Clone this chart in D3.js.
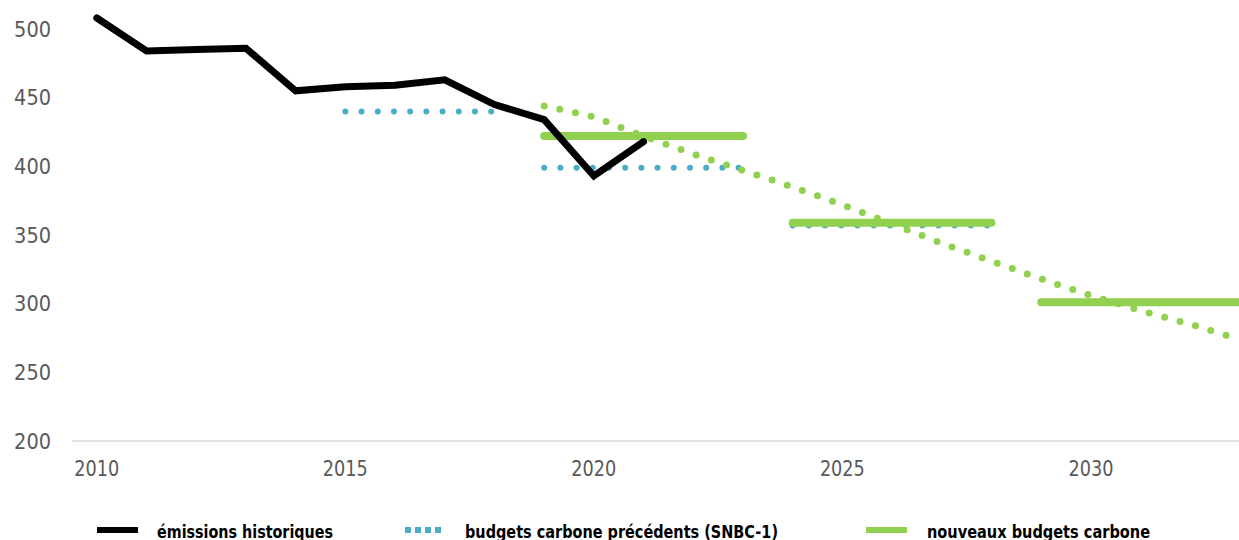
<!DOCTYPE html>
<html lang="fr">
<head>
<meta charset="utf-8">
<script src="https://d3js.org/d3.v7.min.js"></script>
<style>
  body { margin: 0; background: #fff; }
  #plot { position: absolute; width: 1239px; height: 540px; overflow: hidden; }
</style>
</head>
<body>
<div id="plot"></div>
<script>
// émissions historiques (MtCO2e)
const histYears = [2010, 2011, 2012, 2013, 2014, 2015, 2016, 2017, 2018, 2019, 2020, 2021];
const histValues = [508, 484, 485, 486, 455, 458, 459, 463, 445, 434, 393, 418];

// budgets carbone précédents (SNBC-1) : [début, fin, valeur]
const snbc1Budgets = [
  [2015, 2018, 440],
  [2019, 2023, 399],
  [2024, 2028, 357]
];

// nouveaux budgets carbone
const newBudgets = [
  [2019, 2023, 422],
  [2024, 2028, 359],
  [2029, 2033, 301]
];

// trajectoire pointillée verte
const trajYears = [2019, 2020, 2021, 2022, 2023, 2024, 2025, 2026, 2027, 2028, 2029, 2030, 2031, 2032, 2033];
const trajValues = [444, 436, 422, 409, 397, 385, 372, 358, 344, 331, 318, 306, 295, 285, 274];

const yTicks = [200, 250, 300, 350, 400, 450, 500];
const xTicks = [2010, 2015, 2020, 2025, 2030];

const legendItems = [
  {label: "émissions historiques", type: "black"},
  {label: "budgets carbone précédents (SNBC-1)", type: "blue"},
  {label: "nouveaux budgets carbone", type: "green"}
];

const black = "#000000";
const blue = "#4bacc6";
const green = "#92d050";

function draw() {
  const width = 1239, height = 540;
  const svg = d3.select("#plot").append("svg")
      .attr("width", width)
      .attr("height", height);

  const x = d3.scaleLinear().domain([2009.5, 2033]).range([72, 1240]);
  const y = d3.scaleLinear().domain([200, 500]).range([441, 29]);

  // axe horizontal
  svg.append("line")
      .attr("x1", 72).attr("x2", width)
      .attr("y1", y(200)).attr("y2", y(200))
      .attr("stroke", "#d9d9d9").attr("stroke-width", 1.5);

  const fontAxis = "'DejaVu Sans Condensed', 'DejaVu Sans', sans-serif";

  svg.append("g").selectAll("text")
    .data(yTicks)
    .join("text")
      .attr("x", 51)
      .attr("y", d => y(d))
      .attr("dy", "0.36em")
      .attr("text-anchor", "end")
      .attr("fill", "#595959")
      .style("font-family", fontAxis)
      .style("font-size", "21.5px")
      .text(d => d);

  svg.append("g").selectAll("text")
    .data(xTicks)
    .join("text")
      .attr("x", d => x(d))
      .attr("y", 476)
      .attr("text-anchor", "middle")
      .attr("fill", "#595959")
      .style("font-family", fontAxis)
      .style("font-size", "21px")
      .attr("textLength", 45)
      .attr("lengthAdjust", "spacingAndGlyphs")
      .text(d => d);

  const line = d3.line().x(d => x(d[0])).y(d => y(d[1]));

  // SNBC-1 pointillés bleus
  svg.append("g").selectAll("path")
    .data(snbc1Budgets)
    .join("path")
      .attr("d", d => line([[d[0], d[2]], [d[1], d[2]]]))
      .attr("fill", "none")
      .attr("stroke", blue)
      .attr("stroke-width", 6)
      .attr("stroke-linecap", "round")
      .attr("stroke-dasharray", "0 16.2");

  // trajectoire verte pointillée
  svg.append("path")
      .attr("d", line(trajYears.map((yr, i) => [yr, trajValues[i]])))
      .attr("fill", "none")
      .attr("stroke", green)
      .attr("stroke-width", 7)
      .attr("stroke-linecap", "round")
      .attr("stroke-dasharray", "0 16");

  // nouveaux budgets
  svg.append("g").selectAll("path")
    .data(newBudgets)
    .join("path")
      .attr("d", d => line([[d[0], d[2]], [d[1], d[2]]]))
      .attr("fill", "none")
      .attr("stroke", green)
      .attr("stroke-width", 8)
      .attr("stroke-linecap", "round");

  // émissions historiques
  svg.append("path")
      .attr("d", line(histYears.map((yr, i) => [yr, histValues[i]])))
      .attr("fill", "none")
      .attr("stroke", black)
      .attr("stroke-width", 7)
      .attr("stroke-linejoin", "miter")
      .attr("stroke-linecap", "round");

  // légende
  const legendX = [97, 405, 866];
  const legendW = [176, 313, 223];
  const lg = svg.append("g").selectAll("g")
    .data(legendItems)
    .join("g")
      .attr("transform", (d, i) => `translate(${legendX[i]}, 530)`);

  lg.append("line")
      .attr("x1", 0).attr("x2", d => d.type === "blue" ? 38 : 41)
      .attr("y1", 0).attr("y2", 0)
      .attr("stroke", d => d.type === "black" ? black : d.type === "blue" ? blue : green)
      .attr("stroke-width", 6)
      .attr("stroke-dasharray", d => d.type === "blue" ? "6 4" : null);

  lg.append("text")
      .attr("x", (d, i) => [60, 60, 61][i])
      .attr("y", 8)
      .attr("fill", "#000")
      .style("font-family", fontAxis)
      .style("font-weight", "bold")
      .style("font-size", "17px")
      .attr("textLength", (d, i) => legendW[i])
      .attr("lengthAdjust", "spacingAndGlyphs")
      .text(d => d.label);
}

draw();
</script>
</body>
</html>
